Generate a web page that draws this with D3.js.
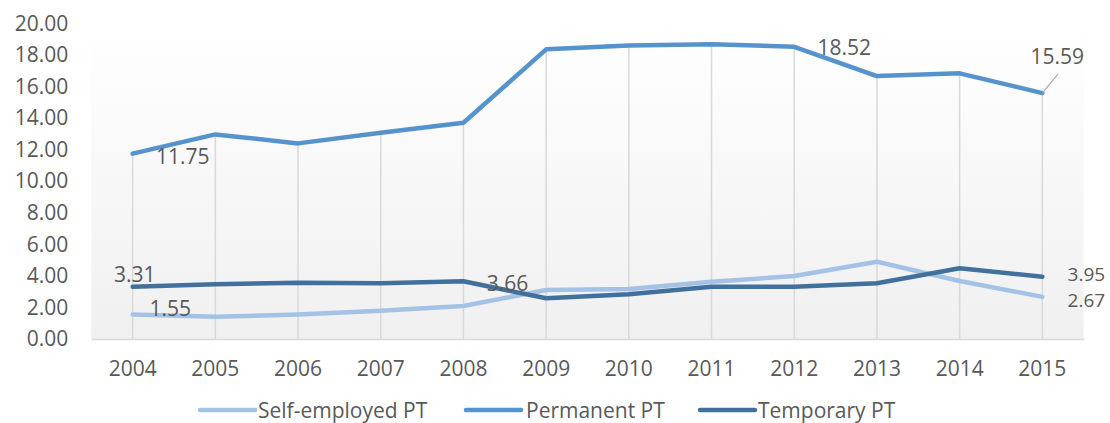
<!DOCTYPE html>
<html>
<head>
<meta charset="utf-8">
<script src="https://cdn.jsdelivr.net/npm/d3@7/dist/d3.min.js"></script>
<style>
  html, body { margin: 0; padding: 0; background: #ffffff; }
  svg { display: block; }
  text { font-family: "Open Sans", sans-serif; fill: #595959; }
</style>
</head>
<body>
<svg id="chart" width="1110" height="423"></svg>
<script>
const years = ["2004","2005","2006","2007","2008","2009","2010","2011","2012","2013","2014","2015"];
const selfEmployed = [1.55, 1.41, 1.55, 1.79, 2.09, 3.11, 3.17, 3.63, 3.99, 4.90, 3.68, 2.67];
const permanent    = [11.75, 12.97, 12.40, 13.07, 13.71, 18.36, 18.61, 18.69, 18.52, 16.67, 16.84, 15.59];
const temporary    = [3.31, 3.47, 3.57, 3.53, 3.66, 2.58, 2.83, 3.31, 3.31, 3.53, 4.48, 3.95];
const seriesNames  = ["Self-employed PT", "Permanent PT", "Temporary PT"];
const yTicks       = [0, 2, 4, 6, 8, 10, 12, 14, 16, 18, 20];

(function () {
const seriesValues = [selfEmployed, permanent, temporary];
const colors = ["#a3c2e6", "#5693cd", "#41709d"];

const svg = d3.select("#chart");
const pLeft = 91.3, pRight = 1083.7, pTop = 23.5, pBottom = 339;

const x = d3.scaleBand().domain(years).range([pLeft, pRight]).paddingInner(0).paddingOuter(0);
const cx = d => x(d) + x.bandwidth() / 2;
const y = d3.scaleLinear().domain([0, 20]).range([pBottom, pTop]);

// plot area gradient
const defs = svg.append("defs");
const grad = defs.append("linearGradient").attr("id", "bg").attr("x1", 0).attr("y1", 0).attr("x2", 0).attr("y2", 1);
grad.append("stop").attr("offset", "0%").attr("stop-color", "#ffffff");
grad.append("stop").attr("offset", "100%").attr("stop-color", "#f0f0f0");
svg.append("rect").attr("x", pLeft).attr("y", pTop).attr("width", pRight - pLeft).attr("height", pBottom - pTop).attr("fill", "url(#bg)");

// drop lines
svg.append("g").selectAll("line").data(years).join("line")
  .attr("x1", d => cx(d)).attr("x2", d => cx(d))
  .attr("y1", (d, i) => y(d3.max(seriesValues, s => s[i])))
  .attr("y2", pBottom)
  .attr("stroke", "#d9d9d9").attr("stroke-width", 1.5);

// x axis
const xAxis = svg.append("g").attr("transform", `translate(0,${pBottom})`)
  .call(d3.axisBottom(x).tickSize(0).tickPadding(22));
xAxis.select(".domain").attr("stroke", "#d9d9d9").attr("stroke-width", 1.5);
xAxis.selectAll("text").attr("font-size", 21).attr("font-family", "Open Sans").attr("fill", "#595959");

// y axis (labels only)
const yAxis = svg.append("g").attr("transform", `translate(${pLeft},0)`)
  .call(d3.axisLeft(y).tickValues(yTicks).tickFormat(d3.format(".2f")).tickSize(0).tickPadding(23));
yAxis.select(".domain").remove();
yAxis.selectAll("text").attr("font-size", 21).attr("font-family", "Open Sans").attr("fill", "#595959");

// lines
const line = d3.line().x((d, i) => cx(years[i])).y(d => y(d));
seriesValues.forEach((s, k) => {
  svg.append("path").datum(s).attr("d", line)
    .attr("fill", "none").attr("stroke", colors[k]).attr("stroke-width", 4.5)
    .attr("stroke-linejoin", "round").attr("stroke-linecap", "round");
});

// data labels: [series index, point index, dx, dy]
const labels = [
  [1, 0, 50, 2.5], [2, 0, 2, -12.5], [0, 0, 37.5, -7],
  [2, 4, 44, 1.5], [1, 8, 50, 0.5], [1, 11, 15, -37],
  [2, 11, 44, -2.5], [0, 11, 44, 3.5]
];
// leader line for 15.59
const li = 11;
svg.append("line")
  .attr("x1", cx(years[li])).attr("y1", y(permanent[li]))
  .attr("x2", cx(years[li]) + 15.5).attr("y2", y(permanent[li]) - 19)
  .attr("stroke", "#a6a6a6").attr("stroke-width", 1.2);

svg.append("g").selectAll("text").data(labels).join("text")
  .attr("x", d => cx(years[d[1]]) + d[2])
  .attr("y", d => y(seriesValues[d[0]][d[1]]) + d[3])
  .attr("text-anchor", "middle").attr("dominant-baseline", "central")
  .attr("font-size", d => d[1] === 11 && d[0] !== 1 ? 19 : 21)
  .text(d => seriesValues[d[0]][d[1]].toFixed(2));

// legend
const legendItems = [
  { x: 200, tx: 258 },
  { x: 466, tx: 526 },
  { x: 700, tx: 758 }
];
const lg = svg.append("g");
seriesNames.forEach((n, k) => {
  lg.append("line").attr("x1", legendItems[k].x).attr("x2", legendItems[k].x + 55)
    .attr("y1", 410).attr("y2", 410)
    .attr("stroke", colors[k]).attr("stroke-width", 4.5).attr("stroke-linecap", "round");
  lg.append("text").attr("x", legendItems[k].tx).attr("y", 410)
    .attr("dominant-baseline", "central").attr("font-size", 21).text(n);
});
})();
</script>
</body>
</html>
